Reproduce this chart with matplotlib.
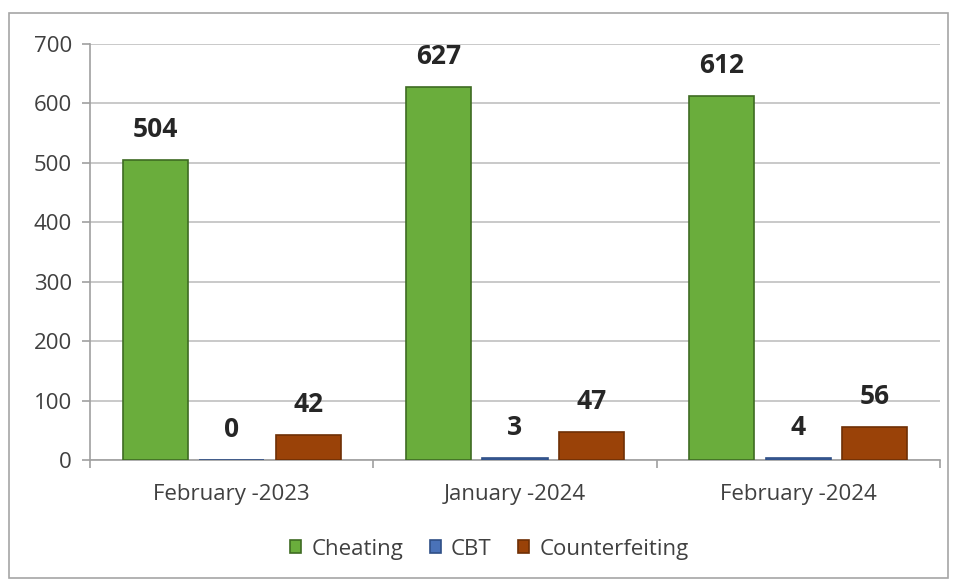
import numpy as np
import matplotlib.pyplot as plt
from matplotlib.patches import Rectangle

# data
categories = ['February -2023', 'January -2024', 'February -2024']
series_names = ['Cheating', 'CBT', 'Counterfeiting']
cheating = [504, 627, 612]
cbt = [0, 3, 4]
counterfeiting = [42, 47, 56]

colors = ['#6aad3c', '#4a72b8', '#9a4208']
edge_colors = ['#3e6b22', '#2f4f86', '#6e2f05']

plt.rcParams['font.family'] = ['Open Sans', 'DejaVu Sans']

fig = plt.figure(figsize=(9.54, 5.81), dpi=100)
ax = fig.add_axes([0.0943, 0.2083, 0.891, 0.716])

x = np.arange(len(categories))
width = 0.23
offsets = [-0.27, 0.0, 0.27]
all_series = [cheating, cbt, counterfeiting]

for vals, off, name, fc, ec in zip(all_series, offsets, series_names, colors, edge_colors):
    bars = ax.bar(x + off, vals, width, color=fc, edgecolor=ec, linewidth=1.2,
                  label=name, zorder=3)
    for b, v in zip(bars, vals):
        ax.annotate(str(v), (b.get_x() + b.get_width() / 2, v),
                    xytext=(0, 22), textcoords='offset points',
                    ha='center', va='center', fontsize=19, fontweight='bold',
                    color='#262626', zorder=4)

ax.set_xlim(-0.5, len(categories) - 0.5)
ax.set_ylim(0, 700)
ax.set_yticks(np.arange(0, 701, 100))
ax.yaxis.grid(True, color='#c0c0c0', linewidth=1.2, zorder=0)
ax.set_axisbelow(True)

ax.set_xticks(x)
ax.set_xticklabels(categories, fontsize=16, color='#404040')
ax.tick_params(axis='x', length=0, pad=17)
ax.set_xticks(np.arange(-0.5, len(categories), 1), minor=True)
ax.tick_params(axis='x', which='minor', length=6, color='#a0a0a0', width=1.2)
ax.tick_params(axis='y', labelsize=16, labelcolor='#404040', length=6,
               color='#a0a0a0', width=1.2, pad=7)

for side in ['top', 'right']:
    ax.spines[side].set_visible(False)
for side in ['left', 'bottom']:
    ax.spines[side].set_color('#a0a0a0')
    ax.spines[side].set_linewidth(1.2)

leg = fig.legend(loc='center', bbox_to_anchor=(0.513, 0.055), ncol=3, frameon=False,
                 fontsize=16, handlelength=0.5, handleheight=0.5,
                 handletextpad=0.45, columnspacing=1.2)
for t in leg.get_texts():
    t.set_color('#404040')

# outer chart border
fig.patches.append(Rectangle((0.009, 0.005), 0.985, 0.972, transform=fig.transFigure,
                             fill=False, edgecolor='#a6a6a6', linewidth=1.2))

fig.savefig('out.png', dpi=100)
